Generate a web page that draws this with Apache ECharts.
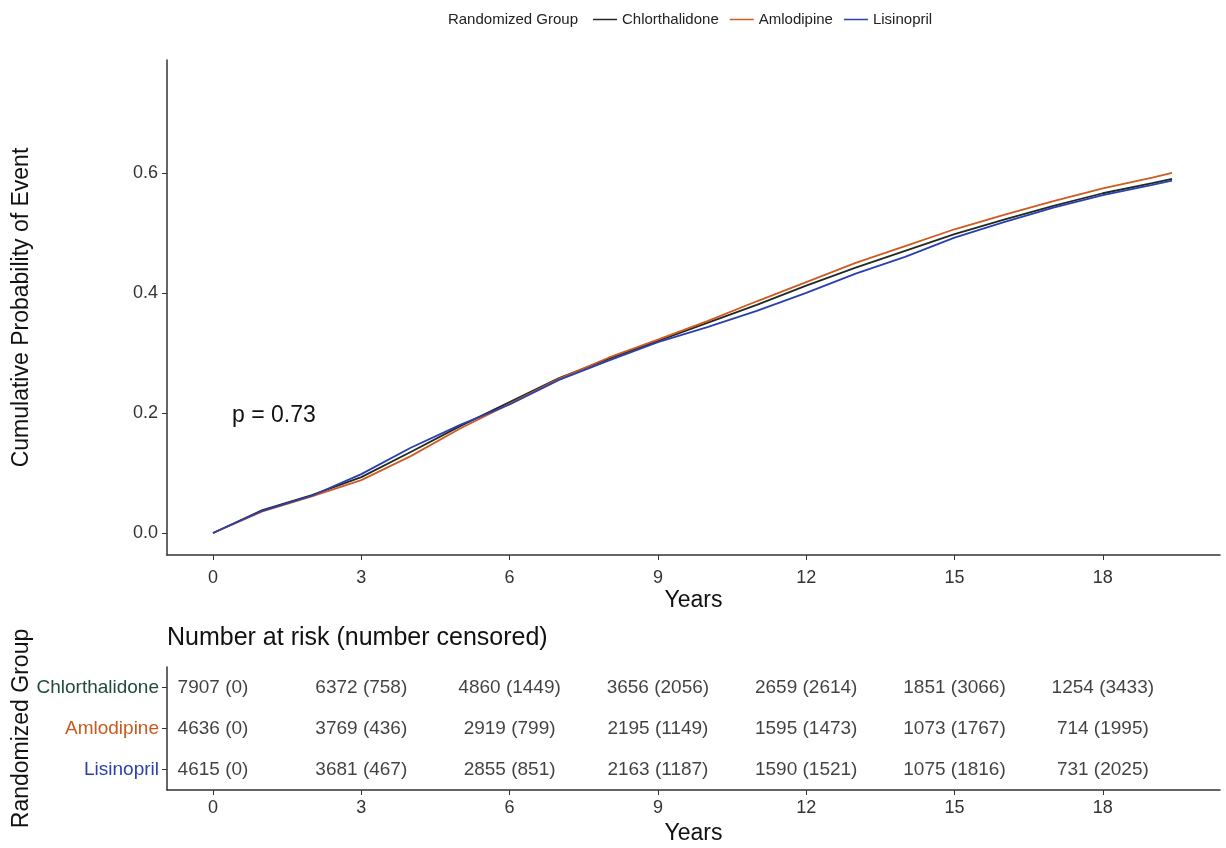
<!DOCTYPE html>
<html>
<head>
<meta charset="utf-8">
<script src="https://cdn.jsdelivr.net/npm/echarts@6/dist/echarts.min.js"></script>
<style>html,body{margin:0;padding:0;background:#fff;}#c{width:1226px;height:848px;}</style>
</head>
<body>
<div id="c"></div>
<script>
// ---- data ----
const groups = ['Chlorthalidone', 'Amlodipine', 'Lisinopril'];
const years = [0,1,2,3,4,5,6,7,8,9,10,11,12,13,14,15,16,17,18,19,19.4];
const chlorthalidone = [0,0.038,0.063,0.093,0.135,0.178,0.218,0.258,0.290,0.320,0.350,0.380,0.412,0.442,0.470,0.498,0.522,0.545,0.566,0.583,0.590];
const amlodipine     = [0,0.036,0.061,0.088,0.128,0.174,0.215,0.257,0.292,0.322,0.353,0.386,0.418,0.450,0.478,0.506,0.530,0.553,0.574,0.592,0.600];
const lisinopril     = [0,0.037,0.062,0.098,0.142,0.180,0.214,0.255,0.287,0.318,0.343,0.370,0.400,0.432,0.460,0.492,0.518,0.542,0.563,0.580,0.587];
const riskTimes = [0,3,6,9,12,15,18];
const atRiskChlor = [7907,6372,4860,3656,2659,1851,1254];
const censChlor   = [0,758,1449,2056,2614,3066,3433];
const atRiskAmlo  = [4636,3769,2919,2195,1595,1073,714];
const censAmlo    = [0,436,799,1149,1473,1767,1995];
const atRiskLisi  = [4615,3681,2855,2163,1590,1075,731];
const censLisi    = [0,467,851,1187,1521,1816,2025];
const xTicks = [0,3,6,9,12,15,18];
const yTicks = [0,0.2,0.4,0.6];
const pValueText = 'p = 0.73';

// ---- styles ----
const FONT = '"Liberation Sans", Arial, sans-serif';
const lineColors = ['#1e2a22', '#cf5a22', '#2a3fb0'];
const labelColors = ['#1f4a3c', '#c85a1e', '#2a3fb0'];

const chart = echarts.init(document.getElementById('c'), null, {renderer: 'canvas'});

const mkLine = (name, arr, color) => ({
  name, type: 'line', xAxisIndex: 0, yAxisIndex: 0,
  data: years.map((t, i) => [t, arr[i]]),
  showSymbol: false, symbol: 'none',
  lineStyle: {color, width: 1.8}, itemStyle: {color},
  animation: false, z: 3
});

const tableRows = [[atRiskChlor, censChlor], [atRiskAmlo, censAmlo], [atRiskLisi, censLisi]];
const tableSeries = groups.map((g, gi) => ({
  name: 'risk_' + g, type: 'scatter', xAxisIndex: 1, yAxisIndex: 1,
  symbolSize: 0, silent: true, animation: false,
  data: riskTimes.map((t, i) => [t, g]),
  label: {
    show: true, position: 'inside', color: '#111', fontSize: 19, fontFamily: FONT,
    formatter: p => tableRows[gi][0][p.dataIndex] + ' (' + tableRows[gi][1][p.dataIndex] + ')'
  }
}));

const axisLineStyle = {color: '#333', width: 1.5};

chart.setOption({
  backgroundColor: '#fff',
  textStyle: {fontFamily: FONT},
  legend: {
    data: groups, left: 588, top: 7, icon: 'rect', itemWidth: 24, itemHeight: 1.5,
    itemGap: 11, textStyle: {fontSize: 15, color: '#222', fontFamily: FONT}
  },
  graphic: [
    {type: 'text', x: 578, y: 20, style: {text: 'Randomized Group', align: 'right', verticalAlign: 'middle', fill: '#222', font: '15px ' + FONT}},
    {type: 'text', left: 167, top: 626, style: {text: 'Number at risk (number censored)', fill: '#111', font: '25px ' + FONT}},
    {type: 'text', left: 232, top: 404, style: {text: pValueText, fill: '#111', font: '23px ' + FONT}}
  ],
  grid: [
    {left: 167, right: 6, top: 60, bottom: 293, outerBoundsMode: 'none', containLabel: false},
    {left: 167, right: 6, top: 667, bottom: 58, outerBoundsMode: 'none', containLabel: false}
  ],
  xAxis: [
    {type: 'value', gridIndex: 0, min: -0.93, max: 20.37,
      axisLine: {show: true, onZero: false, lineStyle: axisLineStyle},
      axisTick: {show: true, length: 5, lineStyle: {color: '#333'}, customValues: xTicks},
      axisLabel: {fontSize: 18, color: '#333', margin: 14, customValues: xTicks},
      splitLine: {show: false},
      name: 'Years', nameLocation: 'middle', nameGap: 34, nameMoveOverlap: false,
      nameTextStyle: {fontSize: 23, color: '#111'}},
    {type: 'value', gridIndex: 1, min: -0.93, max: 20.37,
      axisLine: {show: true, onZero: false, lineStyle: axisLineStyle},
      axisTick: {show: true, length: 5, lineStyle: {color: '#333'}, customValues: xTicks},
      axisLabel: {fontSize: 18, color: '#333', margin: 9, customValues: xTicks},
      splitLine: {show: false},
      name: 'Years', nameLocation: 'middle', nameGap: 32, nameMoveOverlap: false,
      nameTextStyle: {fontSize: 23, color: '#111'}}
  ],
  yAxis: [
    {type: 'value', gridIndex: 0, min: -0.0367, max: 0.788,
      axisLine: {show: true, onZero: false, lineStyle: axisLineStyle},
      axisTick: {show: true, length: 5, lineStyle: {color: '#333'}, customValues: yTicks},
      axisLabel: {fontSize: 18, color: '#333', margin: 9, customValues: yTicks, formatter: v => v.toFixed(1)},
      splitLine: {show: false},
      name: 'Cumulative Probability of Event', nameLocation: 'middle', nameGap: 134, nameMoveOverlap: false,
      nameTextStyle: {fontSize: 23, color: '#111'}},
    {type: 'category', gridIndex: 1, data: groups, inverse: true,
      axisLine: {show: true, onZero: false, lineStyle: axisLineStyle},
      axisTick: {show: true, length: 5, alignWithLabel: true, lineStyle: {color: '#333'}},
      axisLabel: {fontSize: 19, margin: 8,
        formatter: v => '{g' + groups.indexOf(v) + '|' + v + '}',
        rich: {
          g0: {color: labelColors[0], fontSize: 19, fontFamily: FONT},
          g1: {color: labelColors[1], fontSize: 19, fontFamily: FONT},
          g2: {color: labelColors[2], fontSize: 19, fontFamily: FONT}
        }},
      splitLine: {show: false},
      name: 'Randomized Group', nameLocation: 'middle', nameGap: 134, nameMoveOverlap: false,
      nameTextStyle: {fontSize: 23, color: '#111'}}
  ],
  series: [
    mkLine('Chlorthalidone', chlorthalidone, lineColors[0]),
    mkLine('Amlodipine', amlodipine, lineColors[1]),
    mkLine('Lisinopril', lisinopril, lineColors[2]),
    ...tableSeries
  ]
});
</script>
</body>
</html>
